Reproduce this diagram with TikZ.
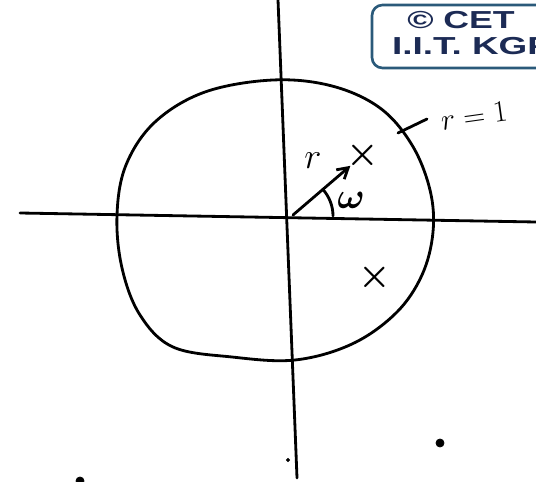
\documentclass[tikz,border=0pt]{standalone}
\usepackage{fontspec}
\usepackage{amsmath,amssymb}
\newfontfamily\stampfont{Liberation Sans}
\usetikzlibrary{positioning,arrows.meta}

\definecolor{stampblue}{HTML}{2B5A7A}
\definecolor{stampink}{HTML}{1C2B55}

\tikzset{
  sketch/.style={line width=1.6pt, line cap=round, line join=round},
  polemark/.style={font=\huge, inner sep=0pt},
  handlabel/.style={font=\huge, inner sep=0pt},
  stampbox/.style={draw=stampblue, line width=1.5pt, rounded corners=6pt},
  stamptext/.style={text=stampink, font=\stampfont\bfseries\fontsize{14}{15}\selectfont, anchor=base, inner sep=0pt},
}

\begin{document}
\begin{tikzpicture}[x=0.02cm,y=-0.02cm]
 \useasboundingbox (0,0) rectangle (536,482);
 \clip (0,0) rectangle (536,482);

 % axes
 \coordinate (O) at (293,215);
 \coordinate (xl) at (20,213); \coordinate (xr) at (536,222);
 \coordinate (yt) at (278,0); \coordinate (yb) at (297,478);
 \draw[sketch] (xl) -- (xr);
 \draw[sketch] (yt) -- (yb);

 % unit circle, drawn by hand
 \draw[sketch] plot[smooth cycle,tension=0.6] coordinates {(117,215) (126,165) (155,122) (205,92) (273,80) (332,86) (380,108) (412,145) (430,190) (433,232) (422,275) (396,313) (352,344) (295,360) (232,357) (173,347) (140,315) (122,268)};

 % r=1 label with its tick
 \coordinate (tk1) at (398,133); \coordinate (tk2) at (427,119);
 \draw[sketch] (tk1) -- (tk2);
 \node[handlabel,font=\LARGE,rotate=8] (unit) at (474,116) {$r=1$};

 % poles
 \node[polemark] (p1) at (363,155) {$\boldsymbol{\times}$};
 \node[polemark] (p2) at (375,277) {$\boldsymbol{\times}$};
 \draw[sketch,-{Straight Barb[length=6pt,width=7pt]},shorten >=-3pt] (O) -- (p1);
 \node[handlabel] (rlab) at (313,161) {$r$};

 % angle
 \draw[sketch] (333,216) arc[start angle=0,end angle=-42,radius=40];
 \node[handlabel] (wlab) at (351,200) {$\boldsymbol{\omega}$};

 % specks
 \filldraw[black] (440,443) circle (2.3pt) (288,460) circle (0.9pt) (80,481) circle (2.3pt);

 % stamp
 \draw[stampbox] (372,5) rectangle (580,68);
 \node[stamptext] (cet) at (461,29) {\scalebox{1.45}[1]{\textcopyright\ CET}};
 \node[stamptext] (iit) at (472,55) {\scalebox{1.5}[1]{I.I.T. KGP}};
\end{tikzpicture}
\end{document}
